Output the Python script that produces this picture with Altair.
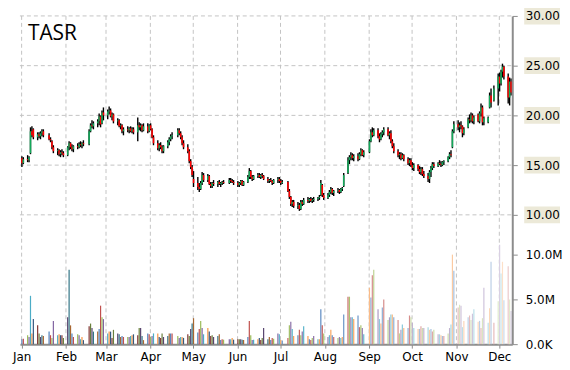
import altair as alt
import pandas as pd

TICKER = "TASR"
YEAR = 2014
MONTH_NAMES = ["Jan", "Feb", "Mar", "Apr", "May", "Jun", "Jul", "Aug", "Sep", "Oct", "Nov", "Dec"]
PRICE_TICKS = [10, 15, 20, 25, 30]
VOLUME_TICKS_M = [0, 5, 10]
VOLUME_LABELS = ["0.0K", "5.0M", "10.0M"]
HOLIDAYS = ["2014-01-01", "2014-01-20", "2014-02-17", "2014-04-18", "2014-05-26",
            "2014-07-04", "2014-09-01", "2014-11-27"]
LAST_DAY = "2014-12-10"

# (open, high, low, close) per trading day
ohlc_jan = [(15.7, 15.9, 14.8, 15.2), (15.2, 15.8, 15.1, 15.6), (15.6, 16.0, 15.3, 15.5), (15.5, 15.9, 15.3, 15.8),
            (16.2, 18.8, 16.1, 18.4), (18.4, 18.9, 17.8, 18.0), (18.6, 18.7, 17.6, 17.8), (17.8, 18.3, 17.5, 18.1),
            (18.1, 18.3, 17.7, 17.9), (17.9, 18.4, 17.6, 18.2), (18.2, 18.6, 17.9, 18.4), (18.4, 18.6, 17.8, 18.0),
            (18.0, 18.2, 17.5, 17.6), (17.6, 17.8, 17.3, 17.5), (17.4, 17.5, 16.6, 16.8), (16.8, 17.0, 16.2, 16.4),
            (16.4, 16.7, 16.0, 16.5), (16.5, 16.6, 15.9, 16.1), (16.1, 16.5, 15.8, 16.3), (16.3, 16.6, 16.0, 16.2),
            (16.2, 16.4, 15.8, 16.0)]
ohlc_feb = [(16.0, 16.9, 15.9, 16.8), (16.8, 17.4, 16.5, 17.2), (17.2, 17.3, 16.6, 16.8), (16.8, 17.1, 16.4, 16.6),
            (16.6, 17.0, 16.3, 16.9), (16.9, 17.2, 16.6, 16.8), (16.8, 17.3, 16.7, 17.1), (17.1, 17.4, 16.8, 17.0),
            (17.0, 17.3, 16.7, 17.2), (17.2, 17.5, 16.9, 17.1), (17.1, 18.6, 17.0, 18.4), (18.4, 19.2, 18.3, 19.0),
            (19.0, 19.5, 18.7, 18.9), (18.9, 19.4, 18.6, 19.2), (19.2, 19.6, 18.8, 19.4), (19.4, 20.2, 19.0, 19.9),
            (19.9, 20.0, 18.8, 19.1), (19.2, 20.5, 19.1, 20.3), (20.3, 20.8, 19.5, 20.0)]
ohlc_mar = [(20.0, 20.6, 19.6, 20.4), (20.4, 20.9, 20.1, 20.5), (20.5, 20.7, 19.8, 19.9), (19.9, 20.3, 19.5, 20.1),
            (20.1, 20.2, 19.2, 19.4), (19.4, 19.7, 19.0, 19.5), (19.5, 19.6, 18.8, 18.9), (18.9, 19.2, 18.6, 19.0),
            (19.0, 19.1, 18.2, 18.4), (18.4, 18.8, 18.0, 18.6), (18.6, 18.9, 18.3, 18.5), (18.5, 18.8, 18.2, 18.7),
            (18.7, 18.9, 18.3, 18.4), (18.4, 18.8, 18.2, 18.6), (18.6, 18.8, 18.1, 18.3), (18.3, 19.8, 17.4, 19.0),
            (19.0, 19.3, 18.5, 18.8), (18.8, 19.2, 18.4, 19.0), (19.0, 19.1, 18.3, 18.5), (18.5, 19.2, 18.4, 18.9),
            (18.9, 19.2, 18.2, 18.4)]
ohlc_apr = [(18.4, 19.1, 18.3, 19.0), (19.0, 19.2, 18.5, 18.6), (18.6, 18.7, 17.7, 17.8), (17.8, 18.0, 17.0, 17.2),
            (17.2, 17.5, 16.5, 16.7), (16.7, 17.2, 16.4, 17.0), (17.0, 17.3, 16.6, 16.8), (16.8, 17.0, 16.2, 16.4),
            (16.4, 17.0, 16.2, 16.9), (16.9, 17.5, 16.7, 17.3), (17.3, 17.8, 17.0, 17.6), (17.6, 18.1, 17.4, 17.9),
            (17.9, 18.3, 17.6, 18.0), (18.0, 18.7, 17.8, 18.5), (18.5, 18.7, 18.0, 18.2), (18.2, 18.4, 17.6, 17.8),
            (17.8, 18.0, 17.0, 17.2), (17.2, 17.5, 16.6, 16.8), (16.8, 17.1, 16.2, 16.4), (16.4, 16.6, 15.2, 15.4),
            (15.4, 15.6, 14.6, 14.8)]
ohlc_may = [(14.8, 15.0, 13.8, 14.0), (13.6, 14.4, 12.8, 13.2), (13.2, 13.8, 12.5, 12.8), (12.8, 13.2, 12.3, 12.6),
            (12.6, 13.4, 12.5, 13.2), (13.2, 14.3, 13.0, 14.0), (14.0, 14.2, 13.3, 13.5), (13.5, 14.1, 13.3, 13.9),
            (13.9, 14.0, 13.0, 13.1), (13.1, 13.3, 12.7, 12.9), (12.9, 13.3, 12.7, 13.2), (13.2, 13.5, 12.9, 13.1),
            (13.1, 13.4, 12.8, 13.3), (13.3, 13.5, 13.0, 13.1), (13.1, 13.3, 12.8, 13.2), (13.2, 13.4, 13.0, 13.3),
            (13.3, 13.5, 13.1, 13.2), (13.2, 13.7, 13.1, 13.5), (13.5, 13.7, 13.2, 13.4), (13.4, 13.6, 13.2, 13.3),
            (13.3, 13.5, 13.0, 13.2)]
ohlc_jun = [(13.2, 13.4, 12.8, 13.0), (13.0, 13.3, 12.8, 13.2), (13.2, 13.5, 13.0, 13.4), (13.4, 13.5, 12.9, 13.0),
            (13.0, 13.4, 12.9, 13.3), (13.3, 14.0, 13.2, 13.8), (13.8, 14.7, 13.6, 14.4), (14.4, 14.5, 13.6, 13.8),
            (13.8, 14.0, 13.4, 13.6), (13.6, 14.0, 13.5, 13.9), (13.9, 14.2, 13.7, 14.0), (14.0, 14.2, 13.7, 13.8),
            (13.8, 14.1, 13.6, 14.0), (14.0, 14.2, 13.7, 13.9), (13.9, 14.0, 13.5, 13.6), (13.6, 13.8, 13.2, 13.4),
            (13.4, 13.6, 13.2, 13.5), (13.5, 13.7, 13.3, 13.4), (13.4, 13.5, 13.0, 13.2), (13.2, 13.6, 13.1, 13.5),
            (13.5, 13.8, 13.2, 13.6)]
ohlc_jul = [(13.6, 13.8, 13.2, 13.4), (13.4, 13.6, 13.0, 13.2), (13.2, 13.5, 13.1, 13.3), (13.3, 13.4, 12.3, 12.4),
            (12.4, 12.6, 11.6, 11.8), (11.8, 11.9, 10.9, 11.1), (11.1, 11.5, 10.8, 11.3), (11.3, 11.5, 10.7, 10.9),
            (10.9, 11.3, 10.6, 11.0), (11.0, 11.2, 10.4, 10.6), (10.6, 11.5, 10.5, 11.3), (11.3, 11.5, 10.9, 11.1),
            (11.1, 11.7, 11.0, 11.5), (11.5, 11.8, 11.2, 11.4), (11.4, 11.7, 11.2, 11.6), (11.6, 11.8, 11.3, 11.4),
            (11.4, 11.7, 11.2, 11.5), (11.5, 11.8, 11.3, 11.6), (11.6, 11.8, 11.4, 11.7), (11.7, 12.0, 11.5, 11.8),
            (12.0, 13.5, 11.9, 13.2), (13.0, 13.1, 11.8, 12.0)]
ohlc_aug = [(12.0, 12.2, 11.5, 11.7), (11.7, 12.2, 11.6, 12.0), (12.0, 12.5, 11.8, 12.3), (12.3, 12.8, 12.1, 12.6),
            (12.6, 12.7, 12.0, 12.2), (12.2, 12.5, 11.9, 12.4), (12.4, 12.7, 12.2, 12.5), (12.5, 12.6, 12.1, 12.3),
            (12.3, 12.7, 12.2, 12.6), (12.6, 12.8, 12.4, 12.7), (12.9, 14.2, 12.8, 14.0), (14.2, 15.8, 14.1, 15.5),
            (15.5, 16.0, 15.1, 15.8), (15.8, 16.3, 15.5, 16.0), (16.0, 16.2, 15.5, 15.7), (15.7, 16.1, 15.4, 15.9),
            (15.9, 16.2, 15.4, 15.6), (15.6, 16.3, 15.5, 16.1), (16.1, 16.7, 15.9, 16.5), (16.5, 16.6, 15.9, 16.0),
            (16.0, 16.5, 15.8, 16.3)]
ohlc_sep = [(16.3, 17.6, 16.2, 17.4), (17.4, 18.6, 17.3, 18.3), (18.3, 18.8, 17.8, 18.0), (18.0, 18.7, 17.9, 18.5),
            (18.5, 18.7, 17.7, 17.9), (17.9, 18.2, 17.3, 17.6), (17.6, 18.3, 17.5, 18.1), (18.1, 18.5, 17.8, 18.3),
            (18.3, 18.8, 18.0, 18.6), (18.6, 18.8, 17.9, 18.0), (18.0, 18.4, 17.6, 18.2), (18.2, 18.5, 17.2, 17.4),
            (17.4, 17.6, 16.7, 16.9), (16.9, 17.2, 16.2, 16.4), (16.4, 16.6, 15.8, 16.0), (16.0, 16.3, 15.6, 16.1),
            (16.1, 16.3, 15.5, 15.7), (15.7, 16.2, 15.6, 16.0), (16.0, 16.1, 15.4, 15.6), (15.6, 15.8, 15.0, 15.2),
            (15.2, 15.7, 14.9, 15.5)]
ohlc_oct = [(15.5, 15.7, 14.8, 15.0), (15.0, 15.3, 14.5, 14.7), (14.7, 15.2, 14.4, 15.0), (15.0, 15.1, 14.4, 14.6),
            (14.6, 14.9, 14.1, 14.3), (14.3, 14.8, 14.0, 14.6), (14.6, 14.8, 13.9, 14.1), (14.1, 14.4, 13.7, 13.9),
            (13.9, 14.2, 13.3, 13.6), (13.6, 14.5, 13.2, 14.3), (14.3, 14.9, 13.8, 14.7), (14.7, 15.3, 14.5, 15.1),
            (15.1, 15.3, 14.7, 14.9), (14.9, 15.3, 14.8, 15.2), (15.2, 15.5, 15.0, 15.1), (15.1, 15.4, 14.8, 15.0),
            (15.0, 15.4, 14.9, 15.3), (15.3, 15.5, 15.0, 15.4), (15.4, 15.9, 15.3, 15.8), (15.8, 16.3, 15.6, 16.1),
            (16.1, 16.5, 15.8, 16.0), (16.8, 18.6, 16.7, 18.4), (18.4, 19.4, 18.2, 19.1)]
ohlc_nov = [(19.1, 19.5, 18.5, 18.8), (18.8, 19.3, 18.3, 19.0), (19.0, 19.4, 18.6, 18.9), (18.9, 19.0, 17.8, 18.2),
            (18.2, 18.8, 18.0, 18.6), (18.8, 19.8, 18.7, 19.6), (19.6, 20.1, 19.2, 19.5), (19.5, 20.3, 19.3, 20.0),
            (20.0, 20.2, 19.2, 19.4), (19.4, 20.0, 19.1, 19.8), (20.1, 20.2, 19.3, 19.4), (19.4, 20.4, 19.2, 20.2),
            (20.2, 21.2, 19.9, 20.8), (20.8, 21.0, 19.0, 19.3), (19.3, 19.9, 19.0, 19.7), (19.3, 19.9, 19.2, 19.8),
            (20.8, 22.3, 20.7, 22.0), (22.0, 22.7, 20.8, 21.3), (21.5, 23.0, 21.4, 22.7)]
ohlc_dec = [(22.7, 24.2, 21.0, 23.9), (23.9, 24.3, 22.4, 23.2), (23.2, 24.6, 23.0, 24.4), (24.4, 25.2, 23.8, 24.9),
            (24.9, 25.0, 23.6, 23.9), (23.9, 24.2, 21.2, 21.8), (21.8, 23.8, 21.0, 23.4), (23.4, 23.7, 22.0, 22.3)]

# daily volume, millions of shares
vol_jan = [0.55, 0.6, 1.0, 0.8, 5.4, 1.2, 2.8, 2.1, 1.2, 0.8, 1.0, 0.9, 1.4, 1.0, 0.7, 2.6, 1.0, 1.1, 1.0, 1.0, 0.7]
vol_feb = [3.0, 8.3, 2.1, 1.2, 0.8, 1.1, 1.0, 0.55, 0.8, 0.45, 2.0, 2.3, 1.8, 1.4, 1.4, 1.7, 4.3, 3.0, 2.8]
vol_mar = [1.2, 1.4, 1.4, 0.7, 1.6, 1.2, 1.1, 0.8, 0.9, 0.8, 0.8, 0.8, 0.9, 1.0, 1.1, 1.0, 1.8, 1.8, 0.9, 0.45, 1.2]
vol_apr = [1.1, 0.8, 0.9, 1.2, 1.2, 0.8, 0.7, 1.2, 0.8, 0.9, 1.2, 1.2, 1.2, 0.9, 0.7, 0.8, 0.8, 0.7, 1.1, 0.9, 1.7]
vol_may = [2.3, 2.9, 1.3, 1.7, 2.6, 1.8, 1.1, 1.8, 1.4, 0.9, 1.0, 0.8, 0.9, 1.1, 0.45, 0.55, 0.5, 0.55, 0.55, 0.7, 0.5]
vol_jun = [0.55, 0.55, 0.55, 0.5, 0.45, 0.8, 2.6, 1.0, 0.45, 0.5, 0.55, 0.7, 0.45, 0.7, 1.8, 0.55, 0.8, 0.45, 0.7, 0.6, 1.2]
vol_jul = [1.1, 0.45, 0.4, 0.7, 2.1, 2.5, 1.7, 0.9, 1.0, 1.6, 1.0, 1.4, 2.0, 0.9, 0.55, 0.45, 0.7, 0.9, 0.55, 0.55, 3.9, 2.1]
vol_aug = [1.2, 0.8, 1.0, 1.6, 1.0, 0.8, 0.7, 0.8, 0.7, 0.8, 3.3, 5.3, 5.3, 3.0, 3.0, 2.8, 3.2, 1.9, 2.1, 1.8, 1.1]
vol_sep = [6.3, 5.2, 7.7, 8.3, 3.9, 2.8, 2.3, 4.1, 5.0, 2.7, 3.0, 3.3, 3.3, 3.0, 2.7, 1.2, 1.6, 2.2, 1.8, 1.8, 3.2]
vol_oct = [3.0, 2.4, 1.8, 1.7, 1.7, 2.0, 1.8, 1.8, 1.9, 1.6, 1.7, 1.4, 1.6, 1.1, 1.1, 1.0, 0.9, 0.9, 1.2, 1.8, 2.2, 10.0, 8.2]
vol_nov = [4.1, 4.4, 4.3, 1.9, 2.6, 3.0, 3.2, 2.7, 3.4, 3.9, 2.5, 2.6, 1.8, 2.9, 6.3, 2.4, 4.0, 9.2, 2.4]
vol_dec = [4.8, 11.1, 7.9, 9.2, 4.9, 8.7, 5.0, 3.7]

# ---------------- styling / layout ----------------
W, H = 495, 330
VOL_BASE, VOL_UNIT = -3.0, 0.9          # volume drawn under prices on a shared axis
DAY_SHIFT = 0.8
UP, DOWN = "#13a85a", "#ff0000"
GRID = "#c4c4c4"
AXIS_GRAY = "#8c8c8c"
BOX = "#ECE9D8"
FONT = "DejaVu Sans"
VOL_PALETTE = ["#4F81BD", "#C0504D", "#9BBB59", "#8064A2", "#4BACC6", "#F79646"]
LIGHTEN_BY_MONTH = [0, 0, 0, 0, 0, 0, 0.08, 0.15, 0.35, 0.5, 0.62, 0.7]


def mix(c, t, target):
    rgb = [int(c[k:k + 2], 16) for k in (1, 3, 5)]
    tg = [int(target[k:k + 2], 16) for k in (1, 3, 5)]
    return "#" + "".join("%02x" % round(v + (w - v) * t) for v, w in zip(rgb, tg))


ohlc = ohlc_jan + ohlc_feb + ohlc_mar + ohlc_apr + ohlc_may + ohlc_jun + ohlc_jul + ohlc_aug + ohlc_sep + ohlc_oct + ohlc_nov + ohlc_dec
vols = vol_jan + vol_feb + vol_mar + vol_apr + vol_may + vol_jun + vol_jul + vol_aug + vol_sep + vol_oct + vol_nov + vol_dec

dates = pd.bdate_range(f"{YEAR}-01-01", LAST_DAY)
dates = dates[~dates.isin(pd.to_datetime(HOLIDAYS))]
n = min(len(dates), len(ohlc), len(vols))

rows = []
for i in range(n):
    o, h, l, c = ohlc[i]
    d = dates[i]
    base = VOL_PALETTE[i % 6]
    if d.month <= 6 and (i // 6) % 2 == 1:
        vcol = mix(base, 0.32, "#000000")
    else:
        vcol = mix(base, LIGHTEN_BY_MONTH[d.month - 1], "#ffffff")
    rows.append(dict(x=d.dayofyear - DAY_SHIFT, open=o, high=h, low=l, close=c,
                     body=UP if c >= o else DOWN,
                     vy=VOL_BASE + vols[i] * VOL_UNIT, vcol=vcol))
df = pd.DataFrame(rows)

month_starts = [pd.Timestamp(YEAR, m, 1).dayofyear for m in range(1, 13)]
months_df = pd.DataFrame({"x": month_starts})
price_df = pd.DataFrame({"price": PRICE_TICKS})
price_df["lo"] = price_df["price"] - 0.85
price_df["hi"] = price_df["price"] + 0.85
title_df = pd.DataFrame({"t": [TICKER]})

vol_tick_pos = [round(VOL_BASE + v * VOL_UNIT, 4) for v in VOLUME_TICKS_M]
y_expr = "format(datum.value, '.2f')"
for pos, lab in reversed(list(zip(vol_tick_pos, VOLUME_LABELS))):
    y_expr = f"abs(datum.value - ({pos})) < 0.01 ? '{lab}' : ({y_expr})"
x_expr = "''"
for pos, lab in reversed(list(zip(month_starts, MONTH_NAMES))):
    x_expr = f"abs(datum.value - {pos}) < 0.01 ? '{lab}' : ({x_expr})"

XS = alt.Scale(domain=[-0.18, 344.05], nice=False, zero=False)
YS = alt.Scale(domain=[VOL_BASE, 30], nice=False, zero=False)
XAX = alt.Axis(values=month_starts, labelExpr=x_expr, grid=False, title=None,
               domainColor=AXIS_GRAY, domainWidth=2, tickColor=AXIS_GRAY, tickSize=4,
               labelFont=FONT, labelFontSize=12, labelColor="black", labelPadding=3,
               labelFlush=False, labelOverlap=False)
YAX = alt.Axis(orient="right", values=vol_tick_pos + PRICE_TICKS, labelExpr=y_expr, grid=False, title=None,
               domainColor=AXIS_GRAY, domainWidth=2, tickColor=AXIS_GRAY, tickSize=5,
               labelFont=FONT, labelFontSize=12, labelColor="black", labelPadding=8,
               labelAlign="left", labelBaseline="middle", labelFlush=False, labelOverlap=False, zindex=1)

hgrid = alt.Chart(price_df).mark_rule(color=GRID, strokeDash=[4, 3], strokeWidth=1).encode(
    y=alt.Y("price:Q", scale=YS, axis=YAX), x=alt.value(0), x2=alt.value(W))
vgrid = alt.Chart(months_df).mark_rule(color=GRID, strokeDash=[4, 3], strokeWidth=1).encode(
    x=alt.X("x:Q", scale=XS, axis=XAX), y=alt.value(0), y2=alt.value(H))
boxes = alt.Chart(price_df).mark_rect(color=BOX).encode(
    y=alt.Y("lo:Q", scale=YS, axis=YAX), y2="hi:Q", x=alt.value(W + 12), x2=alt.value(W + 48))
volume = alt.Chart(df).mark_rule(strokeWidth=1.2).encode(
    x=alt.X("x:Q", scale=XS, axis=XAX), y=alt.Y("vy:Q", scale=YS, axis=YAX), y2=alt.value(H),
    color=alt.Color("vcol:N", scale=None))
wicks = alt.Chart(df).mark_rule(color="black", strokeWidth=1.4).encode(
    x=alt.X("x:Q", scale=XS, axis=XAX), y=alt.Y("low:Q", scale=YS, axis=YAX), y2="high:Q")
bodies = alt.Chart(df).mark_rule(strokeWidth=1.6).encode(
    x=alt.X("x:Q", scale=XS, axis=XAX), y=alt.Y("open:Q", scale=YS, axis=YAX), y2="close:Q",
    color=alt.Color("body:N", scale=None))
title = alt.Chart(title_df).mark_text(font="Open Sans", fontSize=21, align="left", baseline="alphabetic",
                                      color="black").encode(text="t:N", x=alt.value(8), y=alt.value(24))

chart = alt.layer(hgrid, vgrid, boxes, volume, wicks, bodies, title).properties(
    width=W, height=H,
    autosize=alt.AutoSizeParams(type="none"),
    padding={"left": 12, "top": 7, "right": 50, "bottom": 22},
    background="white",
).configure_view(stroke=None)

chart.save("out.html", embed_options={"renderer": "svg", "actions": False})
